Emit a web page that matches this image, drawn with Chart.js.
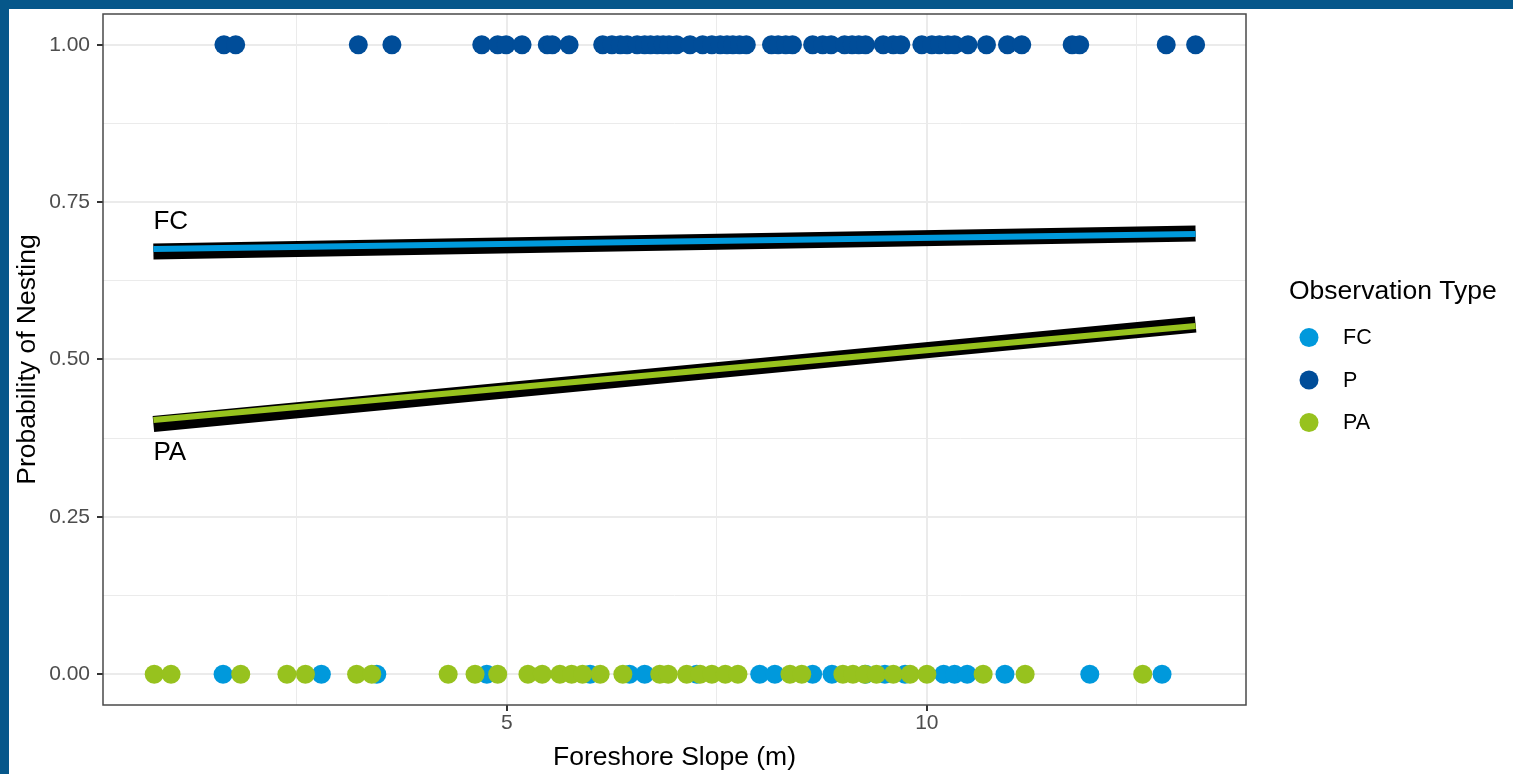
<!DOCTYPE html>
<html>
<head>
<meta charset="utf-8">
<title>Probability of Nesting vs Foreshore Slope</title>
<script src="https://cdn.jsdelivr.net/npm/chart.js@4/dist/chart.umd.min.js"></script>
<style>
  html, body { margin: 0; padding: 0; background: #ffffff; }
  #wrap { position: relative; width: 1513px; height: 774px; overflow: hidden; background: #ffffff; }
  #chart { position: absolute; left: 0; top: 0; }
  .band-top { position: absolute; left: 0; top: 0; width: 1513px; height: 9px; background: #06578a; }
  .band-left { position: absolute; left: 0; top: 0; width: 9px; height: 774px; background: #06578a; }
</style>
</head>
<body>
<div id="wrap">
  <canvas id="chart" width="1513" height="774"></canvas>
  <div class="band-top"></div>
  <div class="band-left"></div>
</div>
<script>
// ---- observations: foreshore slope (m) per observation type ----
const fcSlope = [1.62, 2.79, 3.45, 4.76, 5.99, 6.46, 6.64, 7.26, 8.01, 8.19, 8.64, 8.87,
                 9.27, 9.50, 9.74, 10.20, 10.33, 10.48, 10.93, 11.94, 12.80];
const fcNest = 0;

const pSlope = [1.63, 1.77, 3.23, 3.63, 4.70, 4.89, 4.99, 5.18, 5.48, 5.54, 5.74, 6.14,
                6.25, 6.35, 6.43, 6.55, 6.64, 6.71, 6.79, 6.86, 6.93, 7.02, 7.18, 7.33,
                7.44, 7.54, 7.62, 7.69, 7.77, 7.85, 8.15, 8.23, 8.32, 8.40, 8.64, 8.76,
                8.86, 9.02, 9.11, 9.19, 9.27, 9.48, 9.60, 9.69, 9.94, 10.06, 10.15, 10.25,
                10.33, 10.49, 10.71, 10.96, 11.13, 11.73, 11.82, 12.85, 13.20];
const pNest = 1;

const paSlope = [0.80, 1.00, 1.83, 2.38, 2.60, 3.21, 3.39, 4.30, 4.62, 4.89, 5.25, 5.42,
                 5.63, 5.77, 5.90, 6.11, 6.38, 6.82, 6.92, 7.14, 7.30, 7.44, 7.60, 7.75,
                 8.37, 8.51, 9.00, 9.12, 9.26, 9.40, 9.60, 9.80, 10.00, 10.67, 11.17, 12.57];
const paNest = 0;

// ---- fitted probability lines (ends of the slope range) ----
const fitSlope = [0.79, 13.20];
const fcFit = [0.6757, 0.6995];
const fcFitOutline = [0.6717, 0.7003];
const paFit = [0.4038, 0.5533];
const paFitOutline = [0.3975, 0.5556];

// line labels
const fitLabels = ['FC', 'PA'];
const fitLabelX = [0.79, 0.79];
const fitLabelY = [0.718, 0.351];

// ---- axis ticks ----
const xMajorTicks = [5, 10];
const xMinorTicks = [2.5, 7.5, 12.5];
const yMajorTicks = [0, 0.25, 0.5, 0.75, 1];
const yMinorTicks = [0.125, 0.375, 0.625, 0.875];

const legendTitle = 'Observation Type';
const typeNames = ['FC', 'P', 'PA'];
const typeColors = ['#0099dc', '#004d99', '#97c21e'];

const FONT = "'Liberation Sans', Arial, Helvetica, sans-serif";

const toPoints = (xs, y) => xs.map(x => ({ x: x, y: y }));
const toLine = (xs, ys) => xs.map((x, i) => ({ x: x, y: ys[i] }));
const isMajor = (list, v) => list.some(t => Math.abs(t - v) < 1e-9);

function pointSet(label, xs, y, color, order) {
  return {
    label: label, data: toPoints(xs, y), order: order,
    backgroundColor: color, borderColor: color, borderWidth: 0,
    pointRadius: 9.5, pointHoverRadius: 9.5, showLine: false
  };
}
function lineSet(label, ys, color, width, order) {
  return {
    label: label, data: toLine(fitSlope, ys), order: order,
    showLine: true, borderColor: color, borderWidth: width, borderCapStyle: 'butt',
    pointRadius: 0, pointHoverRadius: 0, fill: false
  };
}

const datasets = [
  lineSet('FC fit', fcFit, typeColors[0], 6, 1),
  lineSet('PA fit', paFit, typeColors[2], 6, 1),
  lineSet('FC fit outline', fcFitOutline, '#000000', 16, 2),
  lineSet('PA fit outline', paFitOutline, '#000000', 16, 2),
  pointSet(typeNames[2], paSlope, paNest, typeColors[2], 3),
  pointSet(typeNames[0], fcSlope, fcNest, typeColors[0], 4),
  pointSet(typeNames[1], pSlope, pNest, typeColors[1], 5)
];

// panel border drawn over the data, like a framed plot panel
const panelBorder = {
  id: 'panelBorder',
  afterDatasetsDraw(chart) {
    const { ctx, chartArea: a } = chart;
    ctx.save();
    ctx.strokeStyle = '#4a4a4a';
    ctx.lineWidth = 1.5;
    ctx.strokeRect(a.left, a.top, a.right - a.left, a.bottom - a.top);
    ctx.restore();
  }
};

// text labels at the start of each fitted line
const lineLabels = {
  id: 'lineLabels',
  afterDatasetsDraw(chart) {
    const { ctx, scales } = chart;
    ctx.save();
    ctx.fillStyle = '#000000';
    ctx.font = '26px ' + FONT;
    ctx.textAlign = 'left';
    ctx.textBaseline = 'middle';
    fitLabels.forEach((t, i) => {
      ctx.fillText(t, scales.x.getPixelForValue(fitLabelX[i]), scales.y.getPixelForValue(fitLabelY[i]));
    });
    ctx.restore();
  }
};

// legend to the right of the panel
const sideLegend = {
  id: 'sideLegend',
  afterDraw(chart) {
    const { ctx, chartArea: a } = chart;
    const items = typeNames.map((name, i) => ({ name: name, color: typeColors[i] }));
    const left = a.right + 43;
    const midY = (a.top + a.bottom) / 2;
    const titleY = midY - 68;
    ctx.save();
    ctx.fillStyle = '#000000';
    ctx.font = '26.5px ' + FONT;
    ctx.textAlign = 'left';
    ctx.textBaseline = 'middle';
    ctx.fillText(legendTitle, left, titleY);
    ctx.font = '21.5px ' + FONT;
    items.forEach((it, i) => {
      const y = titleY + 46 + i * 42.5;
      ctx.beginPath();
      ctx.fillStyle = it.color;
      ctx.arc(left + 20, y, 9.5, 0, Math.PI * 2);
      ctx.fill();
      ctx.fillStyle = '#000000';
      ctx.fillText(it.name, left + 54, y + 1);
    });
    ctx.restore();
  }
};

new Chart(document.getElementById('chart'), {
  type: 'scatter',
  data: { datasets: datasets },
  plugins: [panelBorder, lineLabels, sideLegend],
  options: {
    responsive: false,
    animation: false,
    events: [],
    layout: { padding: { left: 0, top: 14, right: 267, bottom: 0 } },
    plugins: { legend: { display: false }, tooltip: { enabled: false } },
    scales: {
      x: {
        type: 'linear', min: 0.19, max: 13.80,
        afterBuildTicks: axis => {
          axis.ticks = xMinorTicks.concat(xMajorTicks).sort((p, q) => p - q).map(v => ({ value: v }));
        },
        afterFit: axis => { axis.height = 69; axis.paddingLeft = 0; axis.paddingRight = 0; },
        ticks: {
          autoSkip: false, maxRotation: 0, padding: 0, color: '#4d4d4d',
          font: { family: FONT, size: 21 },
          callback: v => isMajor(xMajorTicks, v) ? String(v) : ''
        },
        grid: {
          color: '#ebebeb',
          lineWidth: c => isMajor(xMajorTicks, c.tick.value) ? 2 : 1,
          tickColor: c => isMajor(xMajorTicks, c.tick.value) ? '#333333' : 'rgba(0,0,0,0)',
          tickLength: 6, drawTicks: true
        },
        border: { display: false },
        title: {
          display: true, text: 'Foreshore Slope (m)', color: '#000000',
          font: { family: FONT, size: 26.5 }, padding: { top: 0, bottom: 0 }
        }
      },
      y: {
        type: 'linear', min: -0.049, max: 1.049,
        afterBuildTicks: axis => {
          axis.ticks = yMinorTicks.concat(yMajorTicks).sort((p, q) => p - q).map(v => ({ value: v }));
        },
        afterFit: axis => { axis.width = 103; axis.paddingTop = 0; axis.paddingBottom = 0; },
        ticks: {
          autoSkip: false, padding: 7, color: '#4d4d4d',
          font: { family: FONT, size: 21 },
          callback: v => isMajor(yMajorTicks, v) ? v.toFixed(2) : ''
        },
        grid: {
          color: '#ebebeb',
          lineWidth: c => isMajor(yMajorTicks, c.tick.value) ? 2 : 1,
          tickColor: c => isMajor(yMajorTicks, c.tick.value) ? '#333333' : 'rgba(0,0,0,0)',
          tickLength: 6, drawTicks: true
        },
        border: { display: false },
        title: {
          display: true, text: 'Probability of Nesting', color: '#000000',
          font: { family: FONT, size: 26.5 }, padding: { top: 12, bottom: 0 }
        }
      }
    }
  }
});
</script>
</body>
</html>
